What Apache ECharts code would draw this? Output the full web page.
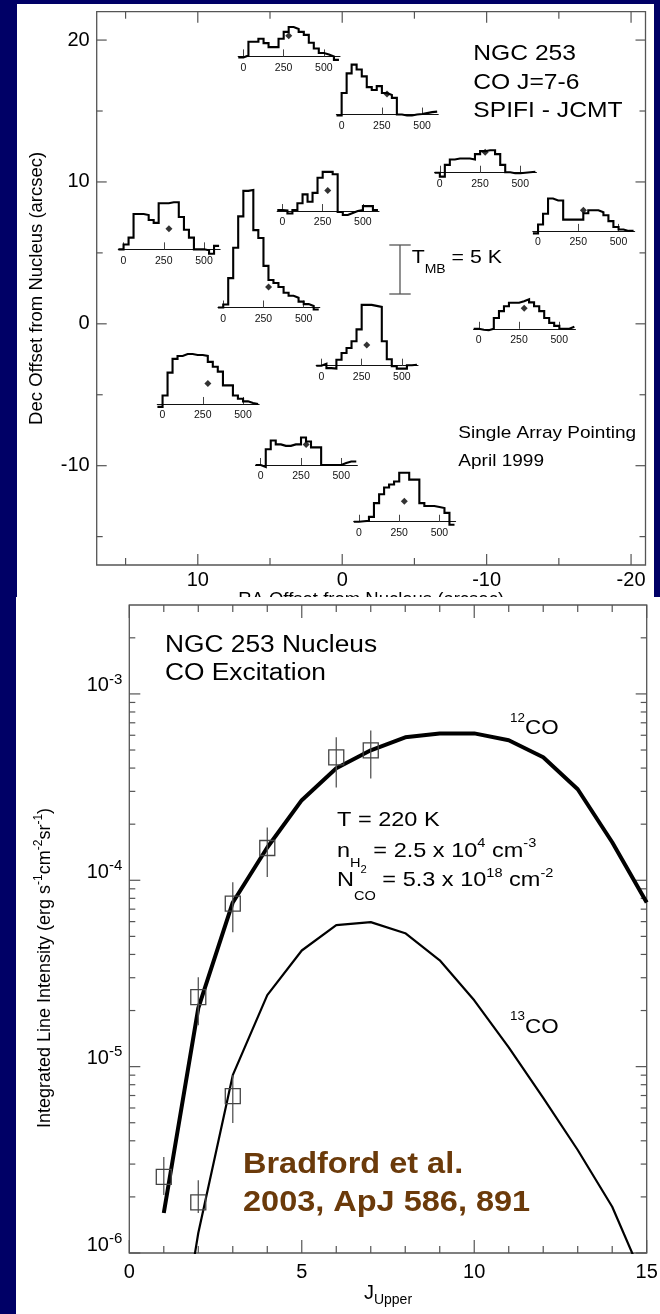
<!DOCTYPE html>
<html>
<head>
<meta charset="utf-8">
<title>NGC 253 CO J=7-6 spectra and CO excitation</title>
<script src="https://cdn.jsdelivr.net/npm/echarts@6.0.0/dist/echarts.min.js"></script>
<style>
  html, body { margin: 0; padding: 0; width: 660px; height: 1314px; background: #000066; overflow: hidden; }
  .panel { position: absolute; left: 0; top: 0; width: 660px; height: 1314px; }
  #map  { clip-path: inset(4px 6px 716px 17px); }
  #sled { clip-path: inset(597px 0px 0px 16px); }
</style>
</head>
<body>
<div id="map" class="panel"></div>
<div id="sled" class="panel"></div>
<script>
const FONT = "'Liberation Sans', Arial, Helvetica, sans-serif";
const FRAME = '#555';
const INK = '#000';
const STRETCH = 1.12;   // annotation lettering is set slightly wide

/* ================= CO J=7-6 map (upper panel) ================= */
const RA_RANGE = [-21, 17];
const DEC_RANGE = [-17, 22];
const RA_MAJOR = [10, 0, -10, -20];
const RA_MINOR = [15, 5, -5, -15];
const DEC_MAJOR = [20, 10, 0, -10];
const DEC_MINOR = [15, 5, -5, -15];

// pointing offsets of the array pixels (arcsec)
const PIX_RA  = [3.7, -3.1, -9.9, 1.0, 12.0, -16.7, 5.1, -12.6, -1.7, 9.3, 2.5, -4.3];
const PIX_DEC = [20.3, 16.2, 12.1, 9.4, 6.7, 8.0, 2.6, 1.1, -1.5, -4.2, -8.5, -12.5];

// channel centre velocities (km/s)
const VLSR = [-16, 16, 47, 78, 109, 141, 172, 203, 234, 266, 297, 328, 359, 391, 422, 453, 484, 516, 547, 578];
const CHAN_WIDTH = 31.25;
const VEL_TICKS = [0, 250, 500];

// main-beam temperature per channel (K), one spectrum per pixel
const TMB_1  = [-0.1, 0.1, 1.5, 1.5, 1.8, 1.35, 0.95, 0.95, 1.8, 2.5, 3.0, 2.8, 2.5, 2.2, 1.4, 0.8, 0.35, 0.2, 0.0, -0.35];
const TMB_2  = [-0.1, 2.2, 4.2, 5.1, 4.6, 3.9, 2.8, 2.5, 2.9, 2.2, 2.0, 1.7, 0.0, -0.1, -0.1, 0.0, 0.05, 0.15, 0.25, 0.3];
const TMB_3  = [0.0, -0.4, 0.8, 1.35, 1.45, 1.45, 1.45, 1.35, 1.9, 2.2, 2.3, 2.3, 1.9, 0.8, 0.05, -0.05, -0.05, 0.0, 0.05, 0.1];
const TMB_4  = [0.1, 0.05, -0.25, 0.1, 0.8, 1.7, 0.95, 1.85, 3.4, 4.0, 4.0, 3.75, -0.1, -0.4, -0.2, 0.0, 0.1, 0.5, 0.5, 0.1];
const TMB_5  = [0.0, 0.5, 1.2, 3.6, 3.6, 3.5, 3.0, 2.7, 4.7, 4.7, 4.8, 4.8, 3.3, 2.0, 1.2, 0.0, 0.0, -0.1, -0.45, 0.35];
const TMB_6  = [-0.25, 0.65, 1.75, 3.3, 3.1, 3.1, 1.15, 1.15, 1.15, 1.15, 1.8, 2.1, 2.1, 1.9, 1.6, 1.0, 0.4, 0.15, 0.0, 0.0];
const TMB_7  = [0.0, 0.3, 3.0, 6.1, 9.3, 11.9, 12.0, 7.9, 7.1, 4.25, 2.8, 2.5, 2.1, 1.5, 1.2, 1.0, 0.6, 0.35, 0.15, -0.2];
const TMB_8  = [0.0, -0.1, -0.15, 0.0, 1.1, 1.8, 2.3, 2.65, 2.65, 2.8, 3.0, 2.7, 2.3, 1.8, 1.1, 0.6, 0.3, 0.0, 0.0, 0.2];
const TMB_9  = [0.0, 0.2, -0.25, -0.3, 0.6, 1.3, 1.8, 2.5, 3.7, 6.2, 6.2, 6.1, 6.0, 2.5, 0.65, -0.05, -0.3, -0.3, 0.05, 0.1];
const TMB_10 = [-0.3, 0.87, 3.2, 4.6, 4.9, 5.1, 5.1, 5.0, 5.0, 4.9, 4.3, 3.8, 3.3, 1.9, 1.9, 0.87, 0.53, 0.27, 0.1, 0.0];
const TMB_11 = [0.0, -0.2, 1.6, 2.5, 2.1, 1.95, 1.95, 2.1, 2.1, 2.8, 2.4, 1.8, 1.8, 0.0, 0.0, 0.0, 0.0, 0.2, 0.35, 0.35];
const TMB_12 = [0.0, 0.05, 0.1, 0.5, 1.9, 2.8, 3.5, 3.8, 4.1, 5.0, 5.0, 4.3, 4.3, 1.9, 1.6, 1.6, 1.5, 1.4, 0.9, -0.3];
const SPECTRA = [TMB_1, TMB_2, TMB_3, TMB_4, TMB_5, TMB_6, TMB_7, TMB_8, TMB_9, TMB_10, TMB_11, TMB_12];

const SCALE_BAR_K = 5;

// inset layout: each spectrum is hung so that (MARK_V, MARK_T) sits on its pointing
const MAIN_GRID = { left: 96.7, top: 11.7, width: 548.8, height: 553.3 };
const KMS_PX = 0.161;       // px per km/s inside an inset
const K_PX = 9.8;           // px per kelvin inside an inset
const V_LIM = [-32, 600];
const T_LIM = [0, 12.8];    // baseline sits on the inset's lower edge; dips draw below it
const MARK_V = 282, MARK_T = 2.1;

function seg(x1, y1, x2, y2, color, w) {
  return { type: 'line', shape: { x1, y1, x2, y2 }, style: { stroke: color, lineWidth: w } };
}

// inward tick marks on all four sides of a framed grid
function frameTicks(xMajor, xMinor, yMajor, yMinor, xEnds, yEnds, len) {
  const xData = xMajor.map(v => [v, yEnds[0], 1]).concat(xMinor.map(v => [v, yEnds[0], 0]));
  const yData = yMajor.map(v => [xEnds[0], v, 1]).concat(yMinor.map(v => [xEnds[0], v, 0]));
  return [
    {
      type: 'custom', silent: true, clip: false, z: 1, data: xData,
      renderItem: (params, api) => {
        const v = api.value(0), L = api.value(2) ? len.xMajor : len.xMinor;
        const lo = api.coord([v, yEnds[0]]), hi = api.coord([v, yEnds[1]]);
        return { type: 'group', children: [
          seg(lo[0], lo[1], lo[0], lo[1] - L, FRAME, 1.2),
          seg(hi[0], hi[1], hi[0], hi[1] + L, FRAME, 1.2)
        ] };
      }
    },
    {
      type: 'custom', silent: true, clip: false, z: 1, data: yData,
      renderItem: (params, api) => {
        const v = api.value(1), L = api.value(2) ? len.yMajor : len.yMinor;
        const l = api.coord([xEnds[0], v]), r = api.coord([xEnds[1], v]);
        return { type: 'group', children: [
          seg(l[0], l[1], l[0] + L, l[1], FRAME, 1.2),
          seg(r[0], r[1], r[0] - L, r[1], FRAME, 1.2)
        ] };
      }
    }
  ];
}

function stepData(tmb) {
  const pts = VLSR.map((v, k) => [v - CHAN_WIDTH / 2, tmb[k]]);
  pts.push([VLSR[VLSR.length - 1] + CHAN_WIDTH / 2, tmb[tmb.length - 1]]);
  return pts;
}

function txt(x, y, text, fontSize, extra) {
  return {
    type: 'text', x, y, scaleX: STRETCH, silent: true, z: 5,
    style: Object.assign({ text, fill: INK, fontSize, fontFamily: FONT, verticalAlign: 'middle', align: 'left' }, extra || {})
  };
}

function mapOption(anchors) {
  const grids = [Object.assign({ show: true, borderColor: FRAME, borderWidth: 1.3, backgroundColor: 'transparent', outerBoundsMode: 'none' }, MAIN_GRID)];
  const xAxes = [{
    gridIndex: 0, type: 'value', min: RA_RANGE[0], max: RA_RANGE[1], inverse: true,
    axisLine: { show: false }, axisTick: { show: false }, splitLine: { show: false },
    axisLabel: { customValues: RA_MAJOR, fontSize: 20, color: INK, fontFamily: FONT, margin: 5 },
    name: 'RA Offset from Nucleus (arcsec)', nameLocation: 'middle', nameGap: 25,
    nameTextStyle: { fontSize: 18.5, color: INK, fontFamily: FONT }
  }];
  const yAxes = [{
    gridIndex: 0, type: 'value', min: DEC_RANGE[0], max: DEC_RANGE[1],
    axisLine: { show: false }, axisTick: { show: false }, splitLine: { show: false },
    axisLabel: { customValues: DEC_MAJOR, fontSize: 20, color: INK, fontFamily: FONT, margin: 7 },
    name: 'Dec Offset from Nucleus (arcsec)', nameLocation: 'middle', nameGap: 50, nameRotate: 90,
    nameTextStyle: { fontSize: 18.5, color: INK, fontFamily: FONT }
  }];
  const series = frameTicks(RA_MAJOR, RA_MINOR, DEC_MAJOR, DEC_MINOR,
    [RA_RANGE[1], RA_RANGE[0]], DEC_RANGE, { xMajor: 11, xMinor: 7, yMajor: 10, yMinor: 6 })
    .map(s => Object.assign(s, { xAxisIndex: 0, yAxisIndex: 0 }));

  series.push({
    type: 'scatter', xAxisIndex: 0, yAxisIndex: 0, symbol: 'diamond', symbolSize: 7, z: 6, silent: true,
    itemStyle: { color: INK }, data: PIX_RA.map((ra, i) => [ra, PIX_DEC[i]])
  });

  if (anchors) {
    anchors.forEach((p, i) => {
      const g = grids.length;
      grids.push({
        left: p[0] - (MARK_V - V_LIM[0]) * KMS_PX,
        top: p[1] - (T_LIM[1] - MARK_T) * K_PX,
        width: (V_LIM[1] - V_LIM[0]) * KMS_PX,
        height: (T_LIM[1] - T_LIM[0]) * K_PX,
        outerBoundsMode: 'none'
      });
      xAxes.push({
        gridIndex: g, type: 'value', min: V_LIM[0], max: V_LIM[1], splitLine: { show: false },
        axisLine: { show: true, onZero: false, lineStyle: { color: '#111', width: 1.2 } },
        axisTick: { show: true, inside: true, length: 7, customValues: VEL_TICKS, lineStyle: { color: '#444', width: 1 } },
        axisLabel: { customValues: VEL_TICKS, fontSize: 10.5, color: '#111', fontFamily: FONT, margin: 6 }
      });
      yAxes.push({ gridIndex: g, type: 'value', min: T_LIM[0], max: T_LIM[1], show: false });
      series.push({
        type: 'line', xAxisIndex: g, yAxisIndex: g, step: 'end', symbol: 'none', clip: false, silent: true, z: 4,
        lineStyle: { color: '#000', width: 2.1, join: 'miter', cap: 'butt' },
        data: stepData(SPECTRA[i])
      });
    });

    // 5 K temperature scale bar
    const g = grids.length;
    grids.push({ left: 389.3, top: 245, width: 21.4, height: SCALE_BAR_K * K_PX, outerBoundsMode: 'none' });
    xAxes.push({ gridIndex: g, type: 'value', min: -1, max: 1, show: false });
    yAxes.push({ gridIndex: g, type: 'value', min: 0, max: SCALE_BAR_K, show: false });
    series.push({
      type: 'custom', xAxisIndex: g, yAxisIndex: g, silent: true, clip: false,
      data: [[0, SCALE_BAR_K]],
      renderItem: (params, api) => {
        const b = api.coord([0, 0]), t = api.coord([0, api.value(1)]);
        const bl = api.coord([-1, 0]), br = api.coord([1, 0]);
        const tl = api.coord([-1, api.value(1)]), tr = api.coord([1, api.value(1)]);
        return { type: 'group', children: [
          seg(b[0], b[1], t[0], t[1], FRAME, 1.3),
          seg(bl[0], bl[1], br[0], br[1], FRAME, 1.3),
          seg(tl[0], tl[1], tr[0], tr[1], FRAME, 1.3)
        ] };
      }
    });
  }

  return {
    backgroundColor: '#ffffff',
    animation: false,
    grid: grids, xAxis: xAxes, yAxis: yAxes, series,
    graphic: { elements: [
      txt(473.3, 54, 'NGC 253', 22),
      txt(473.3, 83, 'CO J=7-6', 22),
      txt(473.3, 111, 'SPIFI - JCMT', 22),
      txt(411.7, 258, '{m|T}{sb|MB}{m| = 5 K}', 19, { rich: {
        m: { fontSize: 19, lineHeight: 40, fontFamily: FONT, fill: INK },
        sb: { fontSize: 12.5, verticalAlign: 'bottom', padding: [0, 0, 2, 0], fontFamily: FONT, fill: INK }
      } }),
      txt(458.3, 433.5, 'Single Array Pointing', 17),
      txt(458.3, 461, 'April 1999', 17)
    ] }
  };
}

const mapChart = echarts.init(document.getElementById('map'), null, { renderer: 'canvas' });
mapChart.setOption(mapOption(null));
const anchors = PIX_RA.map((ra, i) => mapChart.convertToPixel({ gridIndex: 0 }, [ra, PIX_DEC[i]]));
mapChart.setOption(mapOption(anchors), true);

/* ================= CO excitation ladder (lower panel) ================= */
const J_UPPER = [1, 2, 3, 4, 5, 6, 7, 8, 9, 10, 11, 12, 13, 14, 15];
// LVG model curves (erg s^-1 cm^-2 sr^-1)
const CO12_MODEL = [1.64e-6, 2.06e-5, 7.6e-5, 1.5e-4, 2.69e-4, 3.99e-4, 4.98e-4, 5.85e-4, 6.14e-4, 6.14e-4, 5.64e-4, 4.57e-4, 3.08e-4, 1.60e-4, 7.6e-5];
const CO13_MODEL = [9.5e-8, 1.28e-6, 9.0e-6, 2.42e-5, 4.2e-5, 5.74e-5, 5.96e-5, 5.2e-5, 3.72e-5, 2.27e-5, 1.27e-5, 6.8e-6, 3.57e-6, 1.77e-6, 6.6e-7];
// measured line intensities with error ranges
const CO12_J   = [1, 2, 3, 4, 6, 7];
const CO12_OBS = [2.56e-6, 2.36e-5, 7.5e-5, 1.49e-4, 4.57e-4, 4.98e-4];
const CO12_LO  = [2.05e-6, 1.67e-5, 5.26e-5, 1.04e-4, 3.15e-4, 3.52e-4];
const CO12_HI  = [3.27e-6, 3.02e-5, 9.75e-5, 1.92e-4, 5.85e-4, 6.37e-4];
const CO13_J   = [2, 3];
const CO13_OBS = [1.87e-6, 6.95e-6];
const CO13_LO  = [1.64e-6, 4.98e-6];
const CO13_HI  = [2.46e-6, 9.0e-6];

const J_RANGE = [0, 15];
const J_MAJOR = [0, 5, 10, 15];
const J_MINOR = [1, 2, 3, 4, 6, 7, 8, 9, 11, 12, 13, 14];
const I_RANGE = [1e-6, 3e-3];
const I_DECADES = [1e-6, 1e-5, 1e-4, 1e-3];
const I_MANTISSAS = [2, 3, 4, 5, 6, 7, 8, 9];
const I_MINOR = [];
I_DECADES.forEach(d => I_MANTISSAS.forEach(m => { if (m * d < I_RANGE[1]) I_MINOR.push(m * d); }));

const SLED_GRID = { left: 129.3, top: 605, width: 517.4, height: 648 };

const sledChart = echarts.init(document.getElementById('sled'), null, { renderer: 'canvas' });

const obsSeries = (js, obs, lo, hi) => ({
  type: 'custom', clip: true, silent: true, z: 5,
  data: js.map((j, k) => [j, obs[k], lo[k], hi[k]]),
  renderItem: (params, api) => {
    const c = api.coord([api.value(0), api.value(1)]);
    const l = api.coord([api.value(0), api.value(2)]);
    const h = api.coord([api.value(0), api.value(3)]);
    const s = 15;
    return { type: 'group', children: [
      seg(c[0], l[1], c[0], h[1], '#555', 1.3),
      { type: 'rect', shape: { x: c[0] - s / 2, y: c[1] - s / 2, width: s, height: s },
        style: { fill: 'none', stroke: '#444', lineWidth: 1.3 } }
    ] };
  }
});

// line box 48 px tall: superscripts hang from its top, subscripts sit on its bottom
const supRich = {
  m: { fontSize: 21, lineHeight: 48, fontFamily: FONT, fill: INK },
  sp: { fontSize: 13, verticalAlign: 'top', padding: [10, 0, 0, 0], fontFamily: FONT, fill: INK },
  sbH: { fontSize: 13, verticalAlign: 'bottom', padding: [0, 0, 5, 0], fontFamily: FONT, fill: INK },
  ss: { fontSize: 10, verticalAlign: 'bottom', padding: [0, 0, 0, 0], fontFamily: FONT, fill: INK },
  sb: { fontSize: 13, verticalAlign: 'bottom', padding: [0, 0, 2, 0], fontFamily: FONT, fill: INK }
};
const isoRich = {
  m: { fontSize: 20, lineHeight: 40, fontFamily: FONT, fill: INK },
  s: { fontSize: 12, verticalAlign: 'top', padding: [4, 0, 0, 0], fontFamily: FONT, fill: INK }
};
const BROWN = '#6B3A0A';

sledChart.setOption({
  backgroundColor: '#ffffff',
  animation: false,
  grid: Object.assign({ show: true, borderColor: FRAME, borderWidth: 1.3, backgroundColor: 'transparent', outerBoundsMode: 'none' }, SLED_GRID),
  xAxis: {
    type: 'value', min: J_RANGE[0], max: J_RANGE[1],
    axisLine: { show: false }, axisTick: { show: false }, splitLine: { show: false },
    axisLabel: { customValues: J_MAJOR, fontSize: 20, color: INK, fontFamily: FONT, margin: 9 },
    name: '{j|J}{u|Upper}', nameLocation: 'middle', nameGap: 25,
    nameTextStyle: { rich: {
      j: { fontSize: 20, lineHeight: 30, fontFamily: FONT, color: INK },
      u: { fontSize: 14, verticalAlign: 'bottom', padding: [0, 0, 1, 0], fontFamily: FONT, color: INK }
    } }
  },
  yAxis: {
    type: 'log', logBase: 10, min: I_RANGE[0], max: I_RANGE[1],
    axisLine: { show: false }, axisTick: { show: false }, splitLine: { show: false }, minorTick: { show: false },
    axisLabel: {
      customValues: I_DECADES, margin: 7, padding: [0, 0, 16, 0],
      formatter: v => '{m|10}{s|' + Math.round(Math.log10(v)) + '}',
      rich: {
        m: { fontSize: 20, lineHeight: 40, fontFamily: FONT, color: INK },
        s: { fontSize: 15, verticalAlign: 'top', padding: [6, 0, 0, 0], fontFamily: FONT, color: INK }
      }
    }
  },
  series: frameTicks(J_MAJOR, J_MINOR, I_DECADES, I_MINOR, J_RANGE, I_RANGE,
      { xMajor: 13, xMinor: 7, yMajor: 11, yMinor: 6 }).concat([
    {
      type: 'line', name: '12CO model', symbol: 'none', clip: true, silent: true, z: 3,
      lineStyle: { color: INK, width: 4, join: 'round' },
      data: J_UPPER.map((j, k) => [j, CO12_MODEL[k]])
    },
    {
      type: 'line', name: '13CO model', symbol: 'none', clip: true, silent: true, z: 3,
      lineStyle: { color: INK, width: 2.2, join: 'round' },
      data: J_UPPER.map((j, k) => [j, CO13_MODEL[k]])
    },
    obsSeries(CO12_J, CO12_OBS, CO12_LO, CO12_HI),
    obsSeries(CO13_J, CO13_OBS, CO13_LO, CO13_HI)
  ]),
  graphic: { elements: [
    {
      type: 'text', x: 45, y: 968, rotation: Math.PI / 2, silent: true, z: 5,
      style: {
        text: '{m|Integrated Line Intensity (erg s}{sp|-1}{m|cm}{sp|-2}{m|sr}{sp|-1}{m|)}',
        align: 'center', verticalAlign: 'middle', fill: INK,
        rich: {
          m: { fontSize: 18, lineHeight: 30, fontFamily: FONT, fill: INK },
          sp: { fontSize: 12, verticalAlign: 'top', padding: [3, 0, 0, 0], fontFamily: FONT, fill: INK }
        }
      }
    },
    txt(165, 645.5, 'NGC 253 Nucleus', 23.5),
    txt(165, 674, 'CO Excitation', 23.5),
    txt(510, 728.5, '{s|12}{m|CO}', 20, { rich: isoRich }),
    txt(510, 1027, '{s|13}{m|CO}', 20, { rich: isoRich }),
    txt(337, 820, 'T = 220 K', 21),
    txt(337, 851, '{m|n}{sbH|H}{ss|2}{m| = 2.5 x 10}{sp|4}{m| cm}{sp|-3}', 21, { rich: supRich }),
    txt(337, 880.5, '{m|N}{sb|CO}{m| = 5.3 x 10}{sp|18}{m| cm}{sp|-2}', 21, { rich: supRich }),
    txt(243, 1165, 'Bradford et al.', 29, { fill: BROWN, fontWeight: 'bold' }),
    txt(243, 1203, '2003, ApJ 586, 891', 29, { fill: BROWN, fontWeight: 'bold' })
  ] }
});
</script>
</body>
</html>
